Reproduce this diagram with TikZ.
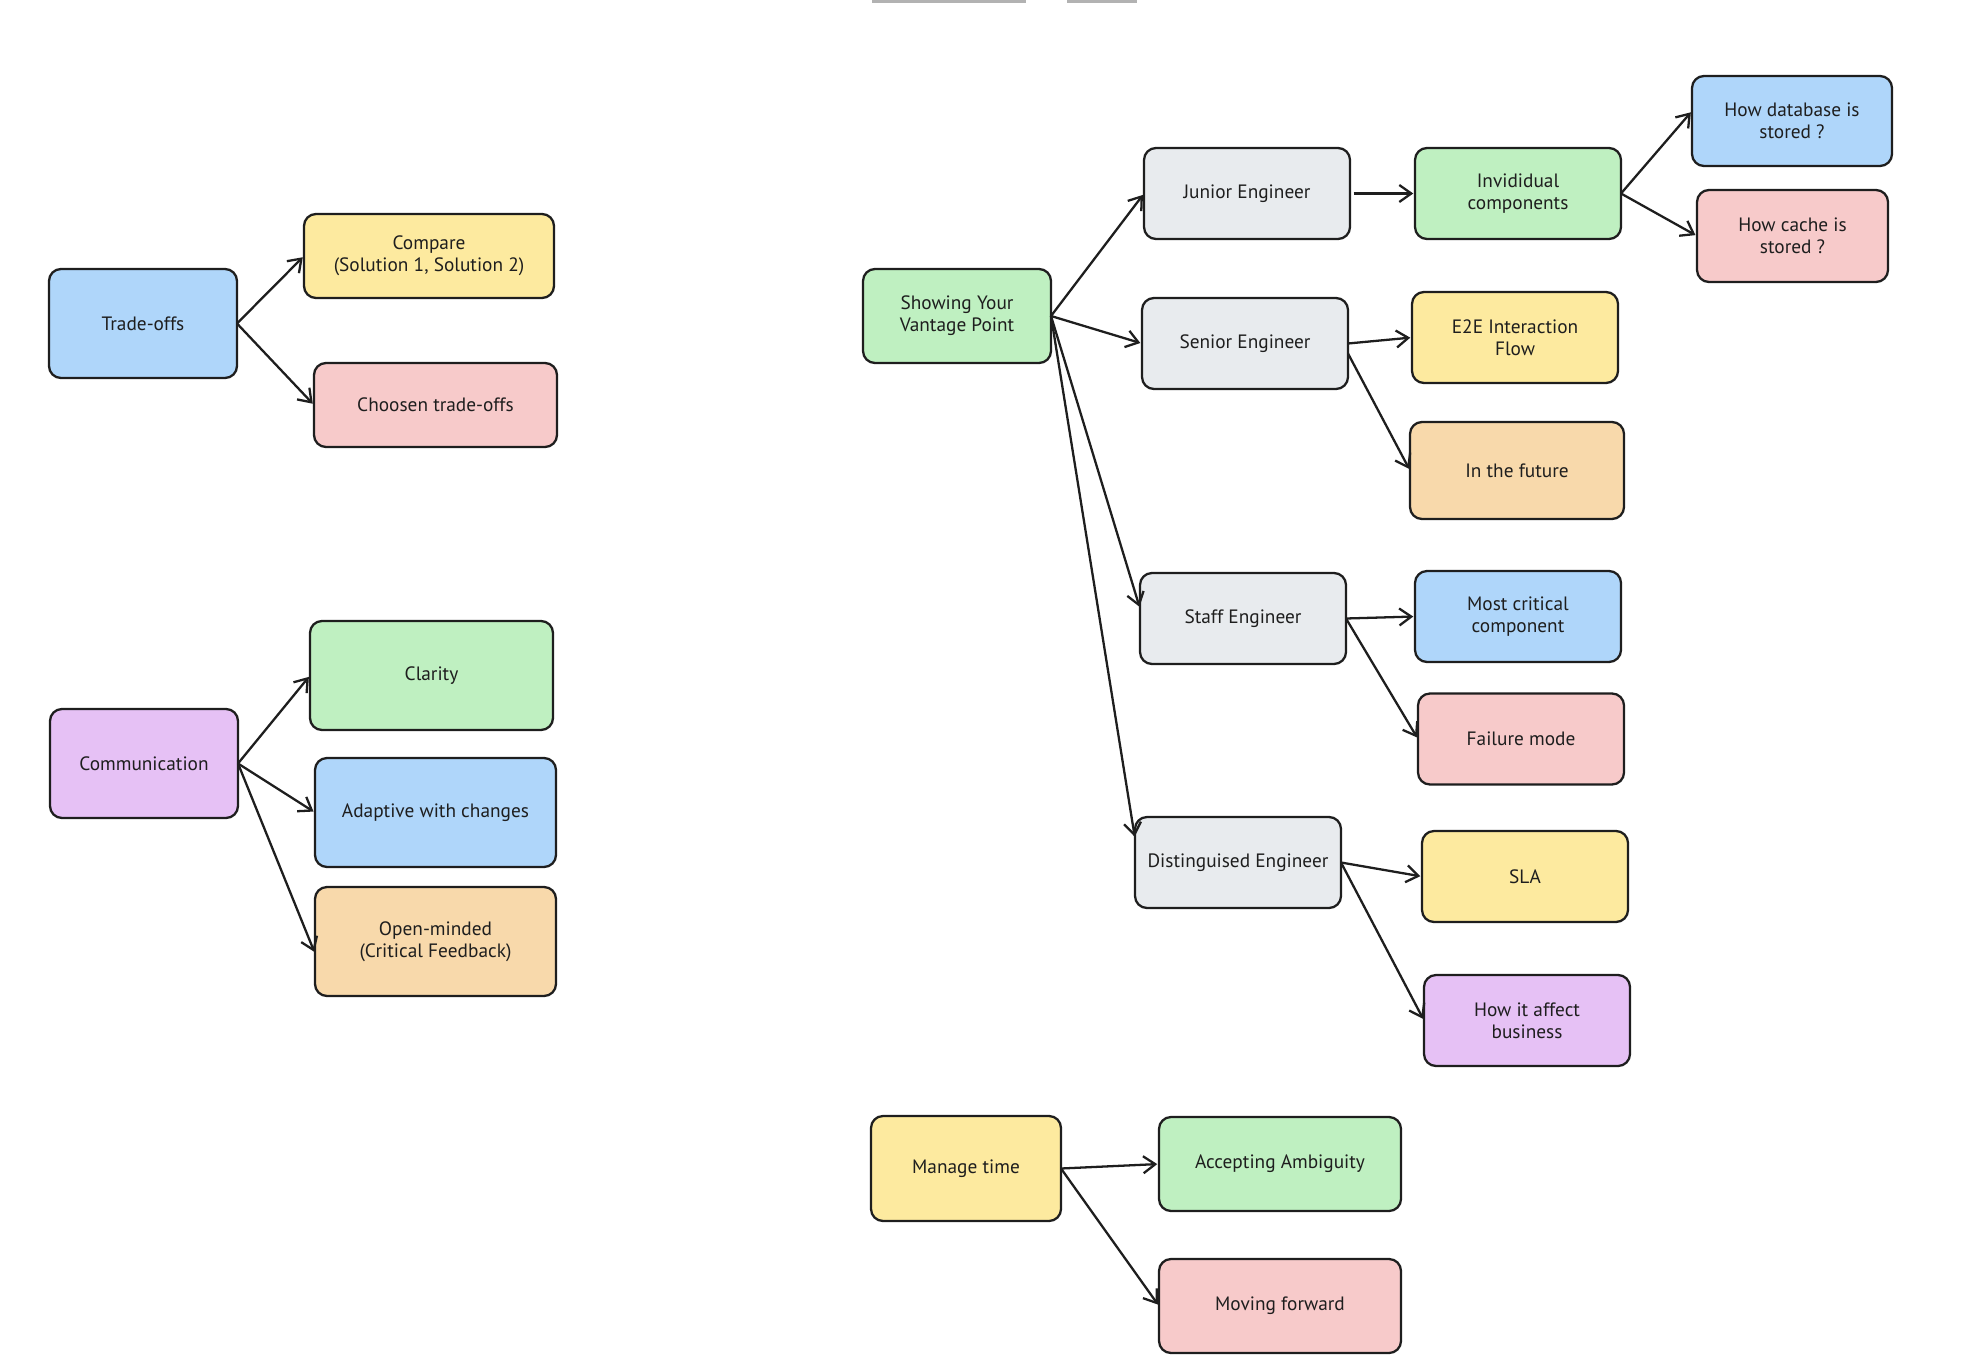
\documentclass[tikz,border=0pt]{standalone}
\usepackage{fontspec}
\setmainfont{PT Sans}
\usetikzlibrary{positioning, arrows.meta}

\definecolor{inkc}{HTML}{1E1E1E}
\definecolor{yellowc}{HTML}{FDEA9F}
\definecolor{redc}{HTML}{F7CACA}
\definecolor{greenc}{HTML}{BFF0C1}
\definecolor{bluec}{HTML}{AFD6FA}
\definecolor{purplec}{HTML}{E6C1F5}
\definecolor{orangec}{HTML}{F8D9AB}
\definecolor{grayc}{HTML}{E8EBEE}

\begin{document}
\begin{tikzpicture}
\tikzstyle{main}=[rectangle, rounded corners=0.24cm, line width=1.3pt, draw=inkc, text=inkc, align=center, minimum width=4.12cm, minimum height=1.82cm, inner sep=2pt, outer sep=0pt, font=\fontsize{11}{12.5}\selectfont]
\tikzstyle{connect}=[-{Straight Barb[length=2.4mm, width=3.4mm]}, line width=1.3pt, draw=inkc, shorten >=1pt]
\useasboundingbox (0,0) rectangle (39.24,-27.4);
    % toolbar marks at the top edge
    \fill[gray!60] (17.44,0) rectangle (20.52,-0.06);
    \fill[gray!60] (21.34,0) rectangle (22.74,-0.06);
    % trade-offs
    \node[main, fill=bluec, minimum width=3.76cm, minimum height=2.18cm] (trade) at (2.86,-6.47) {Trade-offs};
    \node[main, fill=yellowc, minimum width=5cm, minimum height=1.68cm] (compare) [right=1.34cm of trade, yshift=1.35cm] {Compare\\(Solution 1, Solution 2)};
    \node[main, fill=redc, minimum width=4.86cm, minimum height=1.68cm] (choosen) [right=1.54cm of trade, yshift=-1.63cm] {Choosen trade-offs};
    % communication
    \node[main, fill=purplec, minimum width=3.76cm, minimum height=2.18cm] (comm) at (2.88,-15.27) {Communication};
    \node[main, fill=greenc, minimum width=4.86cm, minimum height=2.18cm] (clarity) [right=1.44cm of comm, yshift=1.76cm] {Clarity};
    \node[main, fill=bluec, minimum width=4.82cm, minimum height=2.18cm] (adaptive) [right=1.54cm of comm, yshift=-0.98cm] {Adaptive with changes};
    \node[main, fill=orangec, minimum width=4.82cm, minimum height=2.18cm] (open) [right=1.54cm of comm, yshift=-3.56cm] {Open-minded\\(Critical Feedback)};
    % vantage point
    \node[main, fill=greenc, minimum width=3.76cm, minimum height=1.88cm] (vantage) at (19.14,-6.32) {Showing Your\\Vantage Point};
    \node[main, fill=grayc] (junior) [right=1.86cm of vantage, yshift=2.45cm] {Junior Engineer};
    \node[main, fill=grayc] (senior) [right=1.82cm of vantage, yshift=-0.55cm] {Senior Engineer};
    \node[main, fill=grayc] (staff) [right=1.78cm of vantage, yshift=-6.05cm] {Staff Engineer};
    \node[main, fill=grayc] (disting) [right=1.68cm of vantage, yshift=-10.93cm] {Distinguised Engineer};
    \node[main, fill=greenc] (indiv) [right=1.3cm of junior] {Invididual\\components};
    \node[main, fill=bluec, minimum width=4cm, minimum height=1.8cm] (database) [right=1.42cm of indiv, yshift=1.45cm] {How database is\\stored ?};
    \node[main, fill=redc, minimum width=3.82cm, minimum height=1.84cm] (cache) [right=1.52cm of indiv, yshift=-0.85cm] {How cache is\\stored ?};
    \node[main, fill=yellowc] (e2e) [right=1.28cm of senior, yshift=0.12cm] {E2E Interaction\\Flow};
    \node[main, fill=orangec, minimum width=4.28cm, minimum height=1.94cm] (future) [right=1.24cm of senior, yshift=-2.54cm] {In the future};
    \node[main, fill=bluec] (critical) [right=1.38cm of staff, yshift=0.04cm] {Most critical\\component};
    \node[main, fill=redc] (failure) [right=1.44cm of staff, yshift=-2.41cm] {Failure mode};
    \node[main, fill=yellowc] (sla) [right=1.62cm of disting, yshift=-0.28cm] {SLA};
    \node[main, fill=purplec] (business) [right=1.66cm of disting, yshift=-3.16cm] {How it affect\\business};
    % manage time
    \node[main, fill=yellowc, minimum width=3.8cm, minimum height=2.1cm] (manage) at (19.32,-23.37) {Manage time};
    \node[main, fill=greenc, minimum width=4.84cm, minimum height=1.88cm] (ambiguity) [right=1.96cm of manage, yshift=0.09cm] {Accepting Ambiguity};
    \node[main, fill=redc, minimum width=4.84cm, minimum height=1.88cm] (moving) [right=1.96cm of manage, yshift=-2.75cm] {Moving forward};
    \path (trade.east) edge [connect] (compare.west)
          (trade.east) edge [connect] (choosen.west)
          (comm.east) edge [connect] (clarity.west)
          (comm.east) edge [connect] (adaptive.west)
          (comm.east) edge [connect] ([yshift=-0.24cm]open.west)
          (vantage.east) edge [connect] (junior.west)
          (vantage.east) edge [connect] (senior.west)
          (vantage.east) edge [connect] ([yshift=0.2cm]staff.west)
          (vantage.east) edge [connect] ([yshift=0.48cm]disting.west)
          ([xshift=2pt]junior.east) edge [connect] (indiv.west)
          (indiv.east) edge [connect] ([yshift=0.2cm]database.west)
          (indiv.east) edge [connect] (cache.west)
          (senior.east) edge [connect] (e2e.west)
          ([yshift=-0.2cm]senior.east) edge [connect] (future.west)
          (staff.east) edge [connect] (critical.west)
          (staff.east) edge [connect] (failure.west)
          (disting.east) edge [connect] (sla.west)
          (disting.east) edge [connect] (business.west)
          (manage.east) edge [connect] (ambiguity.west)
          (manage.east) edge [connect] (moving.west);
\end{tikzpicture}
\end{document}
